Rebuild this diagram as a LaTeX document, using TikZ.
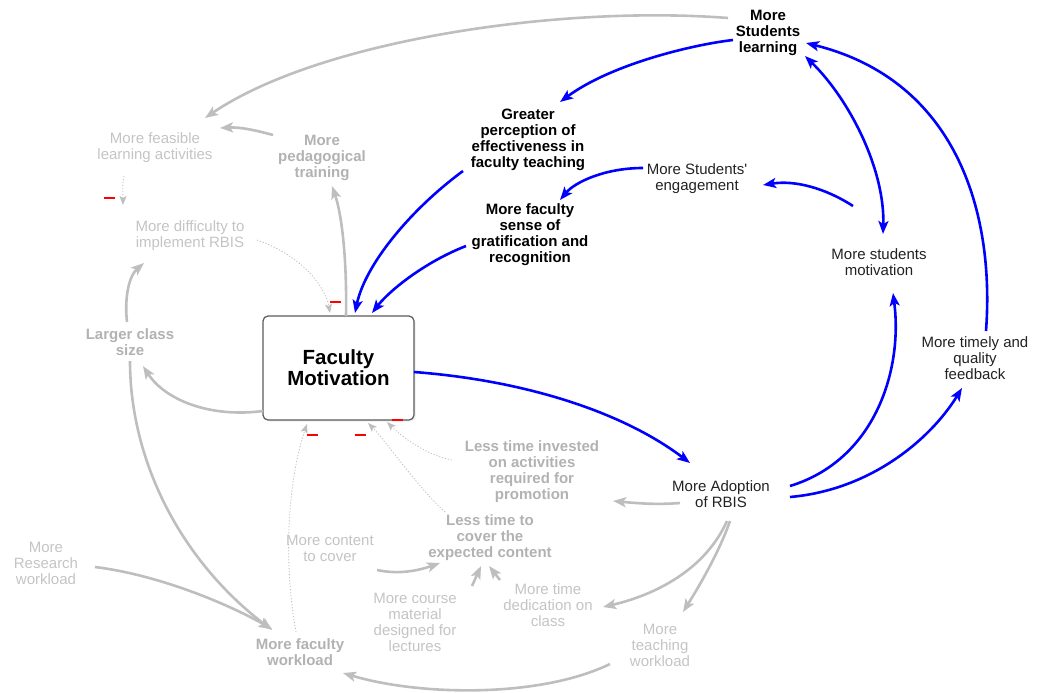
\documentclass[tikz,border=0pt]{standalone}
\usepackage{fontspec}
\setmainfont{Liberation Sans}[Ligatures=TeXOff]
\usetikzlibrary{arrows.meta,shadows}
\definecolor{bl}{RGB}{0,0,255}
\definecolor{gl}{RGB}{190,190,190}
\definecolor{gtxt}{RGB}{196,196,196}
\definecolor{gbold}{RGB}{178,178,178}
\definecolor{dtxt}{RGB}{34,34,34}
\definecolor{boxline}{RGB}{90,90,90}
\begin{document}
\begin{tikzpicture}[x=1pt,y=-1pt,
  lab/.style={align=center,inner sep=1pt,font=\fontsize{15}{16}\selectfont},
  blab/.style={align=center,inner sep=1pt,font=\fontsize{15}{16}\selectfont\bfseries},
  blk/.style={blab,text=black},
  dlab/.style={lab,text=dtxt},
  glab/.style={lab,text=gtxt},
  gblab/.style={blab,text=gbold},
  fmbox/.style={draw=boxline,line width=1.2pt,rounded corners=5pt,fill=white,
     minimum width=151pt,minimum height=104pt,align=center,
     font=\fontsize{20.5}{21}\selectfont\bfseries,drop shadow={opacity=0.15,shadow xshift=1.5pt,shadow yshift=-1.5pt}},
  barrow/.style={draw=bl,line width=2.6pt,-{Stealth[length=13pt,width=10pt,inset=3pt]}},
  garrow/.style={draw=gl,line width=2.6pt,-{Stealth[length=13pt,width=10pt,inset=3pt]}},
  darrow/.style={draw=gl,line width=0.8pt,dash pattern=on 1.2pt off 1.8pt,-{Stealth[length=9pt,width=7pt,inset=2pt]}},
  minus/.style={draw=red,line width=1.3pt}
]
\useasboundingbox (0,0) rectangle (1041,693);

% ---- nodes ----
\node[blk]  (learning)   at (768,33)  {More\\Students\\learning};
\node[blk]  (greater)    at (528,140) {Greater\\perception of\\effectiveness in\\faculty teaching};
\node[dlab] (engage)     at (697,179) {More Students'\\engagement};
\node[blk]  (gratif)     at (530,235) {More faculty\\sense of\\gratification and\\recognition};
\node[dlab] (smot)       at (879,262) {More students\\motivation};
\node[dlab] (feedback)   at (975,358) {More timely and\\quality\\feedback};
\node[dlab] (adoption)   at (721,494) {More Adoption\\of RBIS};
\node[fmbox] (fm)        at (338.5,368) {Faculty\\Motivation};
\node[glab] (feasible)   at (155,148) {More feasible\\learning activities};
\node[gblab] (pedtrain)  at (322,158) {More\\pedagogical\\training};
\node[glab] (difficulty) at (190,236) {More difficulty to\\implement RBIS};
\node[gblab] (larger)    at (130,342) {Larger class\\size};
\node[gblab] (lesspromo) at (532,472) {Less time invested\\on activities\\required for\\promotion};
\node[gblab] (lesscover) at (490,538) {Less time to\\cover the\\expected content};
\node[glab] (content)    at (330,548) {More content\\to cover};
\node[glab] (coursemat)  at (415,622) {More course\\material\\designed for\\lectures};
\node[glab] (timededic)  at (548,605) {More time\\dedication on\\class};
\node[glab] (teachwl)    at (660,645) {More\\teaching\\workload};
\node[glab] (research)   at (46,563)  {More\\Research\\workload};
\node[gblab] (facwl)     at (300,652) {More faculty\\workload};

% ---- gray solid connectors ----
\draw[garrow] ([shift={(-40,-15)}]learning.center) .. controls (560,5) and (320,40) .. ([shift={(50,-30)}]feasible.center);
\draw[garrow] ([shift={(-49,-23)}]pedtrain.center) .. controls (255,130) and (240,127) .. ([shift={(65,-20)}]feasible.center);
\draw[garrow] ([shift={(7.5,-52)}]fm.center) .. controls (347,260) and (342,215) .. ([shift={(10,28)}]pedtrain.center);
\draw[garrow] ([shift={(-75.5,43)}]fm.center) .. controls (210,418) and (165,400) .. ([shift={(13,24)}]larger.center);
\draw[garrow] ([shift={(-3,-20)}]larger.center) .. controls (124,295) and (130,275) .. ([shift={(-46,27)}]difficulty.center);
\draw[garrow] ([shift={(0,19)}]larger.center) .. controls (130,460) and (180,560) .. ([shift={(-28,-22)}]facwl.center);
\draw[garrow] ([shift={(49,4)}]research.center) .. controls (160,575) and (230,605) .. ([shift={(-28,-23)}]facwl.center);
\draw[garrow] ([shift={(-50,19)}]teachwl.center) .. controls (540,698) and (420,696) .. ([shift={(43,21)}]facwl.center);
\draw[garrow] ([shift={(-41,9)}]adoption.center) .. controls (655,505) and (635,503) .. ([shift={(81,29)}]lesspromo.center);
\draw[garrow] ([shift={(6,27)}]adoption.center) .. controls (705,570) and (655,595) .. ([shift={(55,2)}]timededic.center);
\draw[garrow] ([shift={(9,27)}]adoption.center) .. controls (720,550) and (700,585) .. ([shift={(23,-33)}]teachwl.center);
\draw[garrow] ([shift={(47,22)}]content.center) .. controls (400,575) and (420,570) .. ([shift={(-50,25)}]lesscover.center);
\draw[garrow] ([shift={(57,-36)}]coursemat.center) -- ([shift={(-9,28)}]lesscover.center);
\draw[garrow] ([shift={(-48,-25)}]timededic.center) -- ([shift={(-1,28)}]lesscover.center);

% ---- gray dotted connectors ----
\draw[darrow] ([shift={(-31,28)}]feasible.center) .. controls (122,186) and (123,195) .. ([shift={(-67,-31)}]difficulty.center);
\draw[darrow] ([shift={(67,4)}]difficulty.center) .. controls (300,255) and (325,285) .. ([shift={(-8.5,-55)}]fm.center);
\draw[darrow] ([shift={(-4,-20)}]facwl.center) .. controls (283,560) and (288,480) .. ([shift={(-31.5,56)}]fm.center);
\draw[darrow] ([shift={(-45,-26)}]lesscover.center) .. controls (420,490) and (385,440) .. ([shift={(29.5,55)}]fm.center);
\draw[darrow] ([shift={(-80,-12)}]lesspromo.center) .. controls (425,455) and (400,435) .. ([shift={(48.5,54)}]fm.center);

% ---- minus signs ----
\draw[minus] ([shift={(-86,-38)}]difficulty.center) -- ++(11,0);
\draw[minus] ([shift={(-8.5,-66)}]fm.center) -- ++(11,0);
\draw[minus] ([shift={(-31.5,67)}]fm.center) -- ++(11,0);
\draw[minus] ([shift={(16,67)}]fm.center) -- ++(11,0);
\draw[minus] ([shift={(53.5,52)}]fm.center) -- ++(11,0);

% ---- blue connectors ----
\draw[barrow] ([shift={(-35,7)}]learning.center) .. controls (690,45) and (610,65) .. ([shift={(32,-38)}]greater.center);
\draw[barrow] ([shift={(-65,31)}]greater.center) .. controls (410,210) and (365,265) .. ([shift={(16.5,-55)}]fm.center);
\draw[barrow] ([shift={(-54,-11)}]engage.center) .. controls (605,168) and (575,182) .. ([shift={(30,-35)}]gratif.center);
\draw[barrow] ([shift={(-64,11)}]gratif.center) .. controls (425,262) and (390,290) .. ([shift={(33.5,-55)}]fm.center);
\draw[barrow] ([shift={(-26,-56)}]smot.center) .. controls (825,188) and (795,180) .. ([shift={(66,6)}]engage.center);
\draw[barrow,{Stealth[length=13pt,width=10pt,inset=3pt]}-{Stealth[length=13pt,width=10pt,inset=3pt]}] ([shift={(37,23)}]learning.center) .. controls (850,100) and (885,170) .. ([shift={(4,-28)}]smot.center);
\draw[barrow] ([shift={(11,-27)}]feedback.center) .. controls (995,210) and (955,80) .. ([shift={(38,10)}]learning.center);
\draw[barrow] ([shift={(75.5,4)}]fm.center) .. controls (520,380) and (620,410) .. ([shift={(-31,-31)}]adoption.center);
\draw[barrow] ([shift={(69,-8)}]adoption.center) .. controls (875,460) and (903,370) .. ([shift={(14,31)}]smot.center);
\draw[barrow] ([shift={(69,3)}]adoption.center) .. controls (870,490) and (930,440) .. ([shift={(-13,30)}]feedback.center);
\end{tikzpicture}
\end{document}
